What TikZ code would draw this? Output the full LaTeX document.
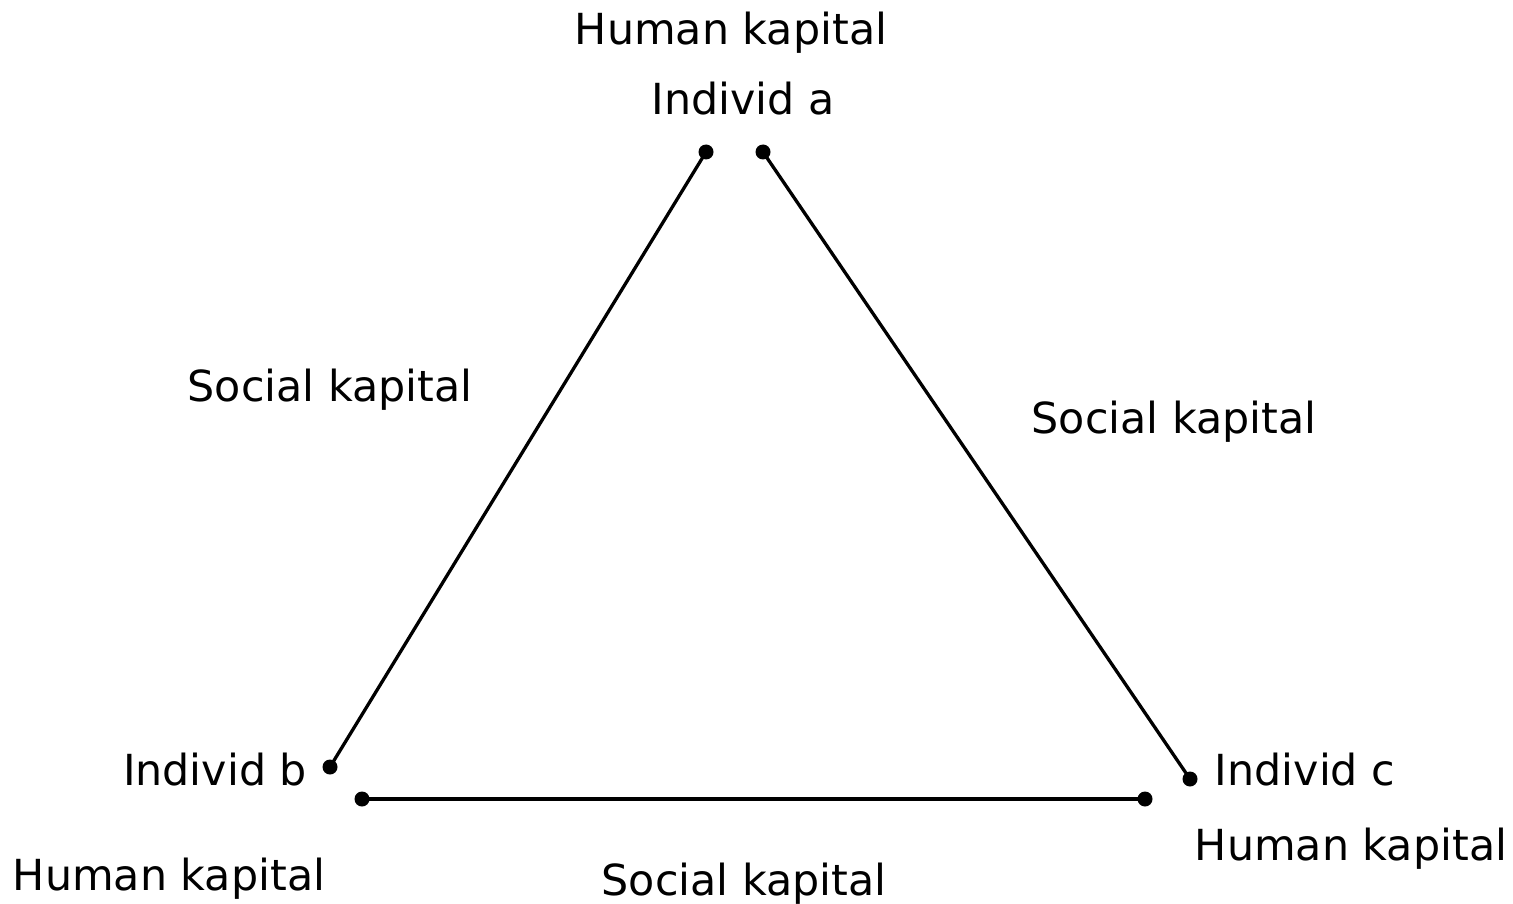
\documentclass[tikz,border=0pt]{standalone}
\usepackage{fontspec}
\setmainfont{DejaVu Sans}
\begin{document}
\begin{tikzpicture}[x=1pt,y=-1pt,
  lbl/.style={anchor=base,inner sep=0pt,font=\fontsize{42.8}{50}\selectfont},
  dotc/.style={circle,fill=black,inner sep=0pt,minimum size=15pt},
  edge/.style={line width=3.3pt}]
\useasboundingbox (0,0) rectangle (1513,904);
\node[dotc] (a1) at (706,152) {};
\node[dotc] (a2) at (763,152) {};
\node[dotc] (b1) at (330,767) {};
\node[dotc] (b2) at (362,799) {};
\node[dotc] (c1) at (1190,779) {};
\node[dotc] (c2) at (1145,799) {};
\draw[edge] (a1.center) -- (b1.center);
\draw[edge] (a2.center) -- (c1.center);
\draw[edge] (b2.center) -- (c2.center);
\node[lbl] (ha) at (731,45) {Human kapital};
\node[lbl] (ia) at (743,115) {Individ a};
\node[lbl] (sl) at (330,401) {Social kapital};
\node[lbl] (sr) at (1174,433) {Social kapital};
\node[lbl] (ib) at (215,785) {Individ b};
\node[lbl] (ic) at (1305,785) {Individ c};
\node[lbl] (hc) at (1351,860) {Human kapital};
\node[lbl] (hb) at (169,890) {Human kapital};
\node[lbl] (sb) at (744,895) {Social kapital};
\end{tikzpicture}
\end{document}
